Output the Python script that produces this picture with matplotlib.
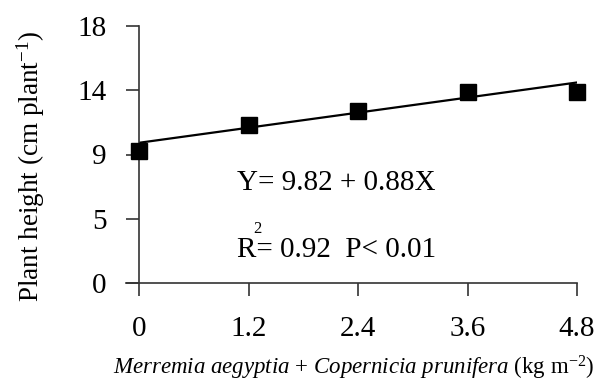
import numpy as np
import matplotlib.pyplot as plt

# doses (kg m-2) and measured plant heights
doses = [0, 1.2, 2.4, 3.6, 4.8]
height = [9.24, 11.06, 12.04, 13.37, 13.37]

# fitted regression Y = a + bX
a, b = 9.82, 0.88

y_ticks = [0, 4.5, 9, 13.5, 18]
y_tick_labels = ["0", "5", "9", "14", "18"]
x_tick_labels = ["0", "1.2", "2.4", "3.6", "4.8"]

plt.rcParams['font.family'] = ['Liberation Serif', 'DejaVu Serif']
plt.rcParams['mathtext.fontset'] = 'custom'
plt.rcParams['mathtext.it'] = 'Liberation Serif:italic'
plt.rcParams['mathtext.rm'] = 'Liberation Serif'

fig = plt.figure(figsize=(5.99, 3.81), dpi=100)
ax = fig.add_axes([139 / 599, 1 - 283 / 381, 438 / 599, 257 / 381])

xfit = np.array([doses[0], doses[-1]])
ax.plot(xfit, a + b * xfit, color='black', lw=1.6, zorder=2)
ax.plot(doses, height, 's', color='black', ms=11, zorder=3, clip_on=False)

ax.set_xlim(0, 4.8)
ax.set_ylim(0, 18)
ax.set_yticks(y_ticks)
ax.set_yticklabels(y_tick_labels)
ax.set_xticks(doses)
ax.set_xticklabels(x_tick_labels)

for s in ['top', 'right']:
    ax.spines[s].set_visible(False)
for s in ['left', 'bottom']:
    ax.spines[s].set_linewidth(1.2)
    ax.spines[s].set_color('#333333')
ax.spines['bottom'].set_bounds(-0.14, 4.8)

ax.tick_params(axis='both', direction='out', length=9.5, width=1.2, colors='#333333',
               labelcolor='black', labelsize=21)
ax.tick_params(axis='y', pad=14)
ax.tick_params(axis='x', pad=14)

ax.set_ylabel("Plant height (cm plant$^{-1}$)", fontsize=19.5)
ax.yaxis.set_label_coords(-0.21, 0.455)
ax.set_xlabel(r"$\mathit{Merremia\ aegyptia}$ + $\mathit{Copernicia\ prunifera}$ (kg m$^{-2}$)",
              fontsize=16.5)
ax.xaxis.set_label_coords(0.49, -0.275)

ax.text(1.07, 7.0, "Y= 9.82 + 0.88X", fontsize=21, va='center', ha='left')
ax.text(1.07, 2.31, "R= 0.92  P< 0.01", fontsize=21, va='center', ha='left')
ax.text(1.30, 3.75, "2", fontsize=12, va='center', ha='center')

fig.savefig("out.png", dpi=100)
